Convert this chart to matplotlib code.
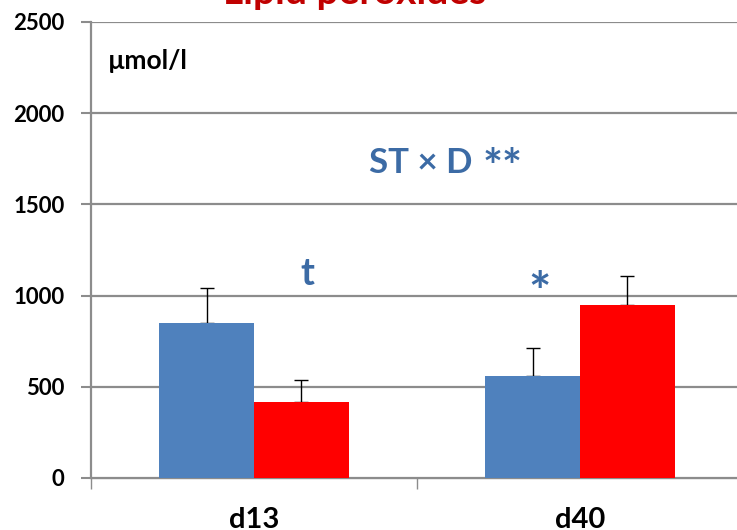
import numpy as np
import matplotlib.pyplot as plt

plt.rcParams['font.family'] = ['Lato', 'DejaVu Sans']

# 데이터
days = ['d13', 'd40']
blue_vals = [848, 561]
red_vals = [418, 947]
blue_err = [195, 153]
red_err = [121, 162]
y_ticks = [0, 500, 1000, 1500, 2000, 2500]

blue = '#4F81BD'
red = '#FF0000'
txt_blue = '#3C6BA5'
grid_c = '#8C8C8C'

fig = plt.figure(figsize=(7.37, 5.30), dpi=100)
ax = fig.add_axes([91 / 737, 52 / 530, 646 / 737, 456 / 530])

x = np.arange(len(days))
w = 0.29
ax.bar(x - w / 2, blue_vals, w, color=blue, zorder=3)
ax.bar(x + w / 2, red_vals, w, color=red, zorder=3)
# 에러바는 막대 뒤에 그려서 아래쪽 캡을 숨김
ax.errorbar(x - w / 2, blue_vals, yerr=[np.zeros(2), blue_err], fmt='none',
            ecolor='black', elinewidth=1, capsize=5, capthick=1, zorder=2)
ax.errorbar(x + w / 2, red_vals, yerr=[np.zeros(2), red_err], fmt='none',
            ecolor='black', elinewidth=1, capsize=5, capthick=1, zorder=2)

ax.set_ylim(0, 2500)
ax.set_xlim(-0.5, -0.5 + 646 / 326)
ax.set_yticks(y_ticks)
ax.set_yticklabels([str(t) for t in y_ticks], fontsize=16, fontweight='bold')
ax.set_xticks([-0.5, 0.5])
ax.set_xticklabels(['', ''])
ax.tick_params(axis='y', direction='out', length=7, width=1.5, color=grid_c, pad=12)
ax.tick_params(axis='x', direction='out', length=8, width=1, color=grid_c)
ax.yaxis.grid(True, color=grid_c, linewidth=1.6, zorder=0)
ax.set_axisbelow(True)
for s in ['top', 'right']:
    ax.spines[s].set_visible(False)
ax.spines['left'].set_color(grid_c)
ax.spines['left'].set_linewidth(1.6)
ax.spines['bottom'].set_color(grid_c)
ax.spines['bottom'].set_linewidth(1.0)

# 카테고리 라벨
for xi, d in zip(x, days):
    ax.text(xi, -0.064, d, transform=ax.get_xaxis_transform(), ha='center',
            va='top', fontsize=21, fontweight='bold')

# 주석
ax.text(0.026, 0.915, 'µmol/l', transform=ax.transAxes, fontsize=19,
        fontweight='bold', va='center')
ax.text(0.669, 1672, 'ST × D', fontsize=25, fontweight='bold',
        color=txt_blue, ha='right', va='baseline')
ax.text(0.700, 1815, '**', fontsize=34, fontweight='bold',
        color=txt_blue, ha='left', va='top')
ax.text(0.165, 1120, 't', fontsize=27, fontweight='bold', color=txt_blue,
        ha='center', va='center')
ax.text(0.875, 1000, '*', fontsize=38, fontweight='bold', color=txt_blue,
        ha='center', va='center')

fig.text(355 / 737, 1 - 4 / 530, 'Lipid peroxides', fontsize=28,
         fontweight='bold', color='#C00000', ha='center', va='baseline')

fig.savefig('out.png', dpi=100)
